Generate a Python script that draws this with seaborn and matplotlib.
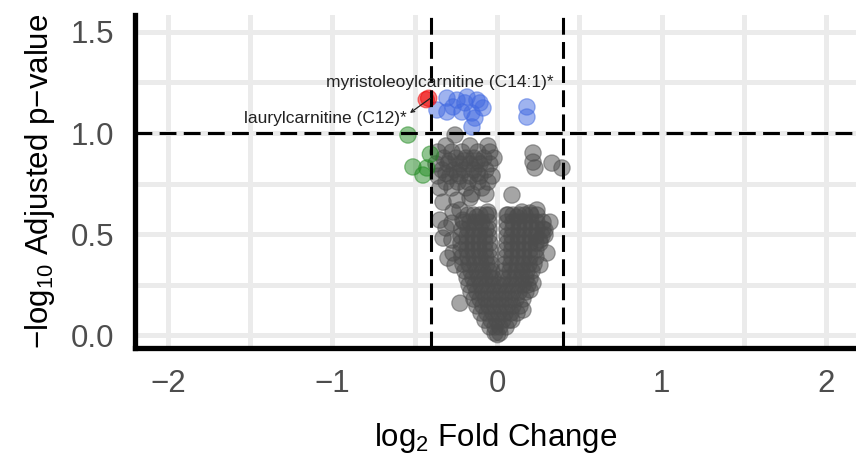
import matplotlib
matplotlib.use("Agg")
import matplotlib.pyplot as plt
import pandas as pd
import seaborn as sns

# log2 fold change and -log10 adjusted p-value for every metabolite, split by status
ns_fc = [
    -0.310, -0.164, -0.055,
    -0.359, -0.274, -0.213, -0.116, -0.043,
    -0.322, -0.249, -0.188, -0.140, -0.079, -0.018,
    -0.290, -0.200, -0.120,
    -0.371, -0.298, -0.225, -0.164, -0.103, -0.043,
    -0.334, -0.261, -0.201, -0.140, -0.067,
    -0.310, -0.240, -0.120,
    -0.359, -0.286, -0.225, -0.164, -0.103, -0.030,
    -0.310, -0.237, -0.176, -0.116, -0.055,
    -0.347, -0.274, -0.188, -0.091,
    -0.152, -0.067,
    -0.255,
    -0.328, -0.243, -0.164, -0.225, -0.267, -0.347, -0.274, -0.207, -0.055, -0.122,
    -0.310, -0.328, -0.274, -0.267, -0.298, -0.255, -0.225,
    0.091, 0.067, 0.122, 0.152, 0.201, 0.243, 0.322, 0.292, 0.261, 0.304, 0.292,
    0.219, 0.201, 0.158, 0.261,
    0.219, 0.219, 0.231, 0.334, 0.395,
    -0.176, -0.140, -0.103, -0.067, -0.049, 0.061, 0.097, 0.134, 0.170, 0.207, 0.243,
    -0.201, -0.164, -0.128, -0.091, -0.049, 0.061, 0.097, 0.134, 0.170, 0.207, 0.243, 0.280,
    -0.213, -0.176, -0.140, -0.103, -0.067, -0.049, 0.061, 0.097, 0.134, 0.170, 0.207, 0.243, 0.280,
    -0.219, -0.182, -0.146, -0.109, -0.073, -0.049, 0.061, 0.091, 0.128, 0.164, 0.201, 0.237, 0.274,
    -0.219, -0.182, -0.146, -0.109, -0.073, -0.043, 0.061, 0.091, 0.128, 0.164, 0.201, 0.237, 0.261,
    -0.219, -0.182, -0.146, -0.109, -0.073, -0.043, 0.055, 0.091, 0.128, 0.164, 0.201, 0.237,
    -0.213, -0.176, -0.140, -0.103, -0.067, -0.043, 0.055, 0.091, 0.128, 0.164, 0.201, 0.237,
    -0.207, -0.170, -0.134, -0.097, -0.061, -0.036, 0.049, 0.085, 0.122, 0.158, 0.195, 0.225,
    -0.195, -0.158, -0.122, -0.085, -0.049, -0.030, 0.043, 0.079, 0.116, 0.152, 0.182, 0.213,
    -0.182, -0.146, -0.109, -0.073, -0.043, -0.024, 0.036, 0.073, 0.109, 0.146, 0.176, 0.201,
    -0.170, -0.134, -0.097, -0.061, -0.024, 0.012, 0.049, 0.085, 0.122, 0.158, 0.188,
    -0.158, -0.122, -0.085, -0.049, -0.012, 0.024, 0.061, 0.097, 0.134, 0.176,
    -0.140, -0.103, -0.067, -0.030, 0.006, 0.043, 0.079, 0.116, 0.158,
    -0.122, -0.085, -0.049, -0.012, 0.024, 0.061, 0.097, 0.140,
    -0.097, -0.061, -0.024, 0.012, 0.049, 0.085, 0.122,
    -0.073, -0.036, 0.000, 0.036, 0.073, 0.091,
    -0.043, -0.012, 0.018, 0.055,
    -0.012, 0.018, 0.003,
]
ns_p = [
    0.936, 0.936, 0.936,
    0.906, 0.906, 0.906, 0.906, 0.906,
    0.876, 0.876, 0.876, 0.876, 0.876, 0.876,
    0.862, 0.862, 0.862,
    0.847, 0.847, 0.847, 0.847, 0.847, 0.847,
    0.817, 0.817, 0.817, 0.817, 0.817,
    0.800, 0.800, 0.800,
    0.787, 0.787, 0.787, 0.787, 0.787, 0.787,
    0.757, 0.757, 0.757, 0.757, 0.757,
    0.728, 0.728, 0.728, 0.728,
    0.698, 0.698,
    0.990,
    0.658, 0.668, 0.678, 0.619, 0.609, 0.569, 0.554, 0.569, 0.609, 0.584,
    0.530, 0.480, 0.470, 0.406, 0.381, 0.347, 0.158,
    0.693, 0.594, 0.584, 0.609, 0.604, 0.619, 0.559, 0.520, 0.470, 0.406, 0.495,
    0.257, 0.223, 0.124, 0.347,
    0.901, 0.856, 0.827, 0.851, 0.827,
    0.594, 0.594, 0.594, 0.594, 0.594, 0.594, 0.594, 0.594, 0.594, 0.594, 0.594,
    0.559, 0.559, 0.559, 0.559, 0.559, 0.559, 0.559, 0.559, 0.559, 0.559, 0.559, 0.559,
    0.525, 0.525, 0.525, 0.525, 0.525, 0.525, 0.525, 0.525, 0.525, 0.525, 0.525, 0.525, 0.525,
    0.490, 0.490, 0.490, 0.490, 0.490, 0.490, 0.490, 0.490, 0.490, 0.490, 0.490, 0.490, 0.490,
    0.455, 0.455, 0.455, 0.455, 0.455, 0.455, 0.455, 0.455, 0.455, 0.455, 0.455, 0.455, 0.455,
    0.421, 0.421, 0.421, 0.421, 0.421, 0.421, 0.421, 0.421, 0.421, 0.421, 0.421, 0.421,
    0.386, 0.386, 0.386, 0.386, 0.386, 0.386, 0.386, 0.386, 0.386, 0.386, 0.386, 0.386,
    0.351, 0.351, 0.351, 0.351, 0.351, 0.351, 0.351, 0.351, 0.351, 0.351, 0.351, 0.351,
    0.317, 0.317, 0.317, 0.317, 0.317, 0.317, 0.317, 0.317, 0.317, 0.317, 0.317, 0.317,
    0.282, 0.282, 0.282, 0.282, 0.282, 0.282, 0.282, 0.282, 0.282, 0.282, 0.282, 0.282,
    0.248, 0.248, 0.248, 0.248, 0.248, 0.248, 0.248, 0.248, 0.248, 0.248, 0.248,
    0.213, 0.213, 0.213, 0.213, 0.213, 0.213, 0.213, 0.213, 0.213, 0.213,
    0.178, 0.178, 0.178, 0.178, 0.178, 0.178, 0.178, 0.178, 0.178,
    0.144, 0.144, 0.144, 0.144, 0.144, 0.144, 0.144, 0.144,
    0.109, 0.109, 0.109, 0.109, 0.109, 0.109, 0.109,
    0.074, 0.074, 0.074, 0.074, 0.074, 0.074,
    0.040, 0.040, 0.040, 0.040,
    0.010, 0.010, 0.002,
]

fc_only_fc = [-0.541, -0.511, -0.450, -0.405, -0.426]
fc_only_p = [0.990, 0.832, 0.792, 0.895, 0.827]

p_only_fc = [-0.304, -0.243, -0.182, -0.122, -0.085, -0.365, -0.304, -0.213,
             -0.152, -0.134, -0.152, 0.182, 0.182, -0.195, -0.267, -0.103]
p_only_p = [1.173, 1.163, 1.178, 1.163, 1.124, 1.114, 1.104, 1.104,
            1.099, 1.074, 1.030, 1.129, 1.079, 1.149, 1.129, 1.149]

both_fc = [-0.430, -0.415]
both_p = [1.165, 1.172]
both_names = ["laurylcarnitine (C12)*", "myristoleoylcarnitine (C14:1)*"]

fc_cutoff = 0.4
p_cutoff = 1.0

x_ticks = [-2, -1, 0, 1, 2]
y_ticks = [0.0, 0.5, 1.0, 1.5]

status_colors = {"NS": "#4d4d4d", "Log2 FC": "#228B22",
                 "p-value": "#4169E1", "p-value and log2 FC": "#EE0000"}

df = pd.concat([
    pd.DataFrame({"log2FC": ns_fc, "padj": ns_p, "status": "NS"}),
    pd.DataFrame({"log2FC": fc_only_fc, "padj": fc_only_p, "status": "Log2 FC"}),
    pd.DataFrame({"log2FC": p_only_fc, "padj": p_only_p, "status": "p-value"}),
    pd.DataFrame({"log2FC": both_fc, "padj": both_p, "status": "p-value and log2 FC"}),
], ignore_index=True)

sns.set_style("white")
plt.rcParams["font.family"] = ["Liberation Sans", "DejaVu Sans"]
plt.rcParams["mathtext.fontset"] = "custom"
plt.rcParams["mathtext.rm"] = "Liberation Sans"
plt.rcParams["mathtext.default"] = "regular"

fig = plt.figure(figsize=(8.56, 4.66), dpi=100)
ax = fig.add_axes([135 / 856, 118 / 466, 1 - 135 / 856, 333 / 466])

sns.scatterplot(data=df, x="log2FC", y="padj", hue="status", palette=status_colors,
                s=138, alpha=0.5, edgecolor="face", linewidth=0.9,
                legend=False, ax=ax, zorder=3)

ax.set_xlim(-2.2, 2.182)
ax.set_ylim(-0.064, 1.584)
ax.set_xticks(x_ticks)
ax.set_yticks(y_ticks)
ax.set_yticklabels([f"{v:.1f}" for v in y_ticks])
ax.set_xticks([-1.5, -0.5, 0.5, 1.5], minor=True)
ax.set_yticks([0.25, 0.75, 1.25], minor=True)
ax.set_axisbelow(True)
ax.grid(which="both", color="#ebebeb", linewidth=3.6)

ax.tick_params(which="major", direction="out", length=9.5, width=3.5, color="#333333",
               labelsize=22.5, labelcolor="#4d4d4d", pad=5.5)
ax.tick_params(which="minor", length=0)

for side in ("top", "right"):
    ax.spines[side].set_visible(False)
for side in ("left", "bottom"):
    ax.spines[side].set_color("black")
    ax.spines[side].set_linewidth(3.8)

dash = (5.5, 2.4)
for xv in (-fc_cutoff, fc_cutoff):
    ax.axvline(xv, color="black", linewidth=2.2, dashes=dash, zorder=4)
ax.axhline(p_cutoff, color="black", linewidth=2.2, dashes=dash, zorder=4)

ax.set_xlabel(r"log$_{2}$ Fold Change", fontsize=22.5, color="black", labelpad=16)
ax.set_ylabel(r"$-$log$_{10}$ Adjusted p$-$value", fontsize=22.5, color="black", labelpad=10)

ax.text(-0.347, 1.248, both_names[1], ha="center", va="center",
        fontsize=12.5, color="#222222", zorder=5)
ax.text(-1.046, 1.074, both_names[0], ha="center", va="center",
        fontsize=12.5, color="#222222", zorder=5)
ax.annotate("", xy=(-0.529, 1.099), xytext=(-0.405, 1.172),
            arrowprops=dict(arrowstyle="->", color="#222222", lw=0.9,
                            mutation_scale=6, shrinkA=0, shrinkB=0), zorder=5)

fig.savefig("out.png", dpi=100)
